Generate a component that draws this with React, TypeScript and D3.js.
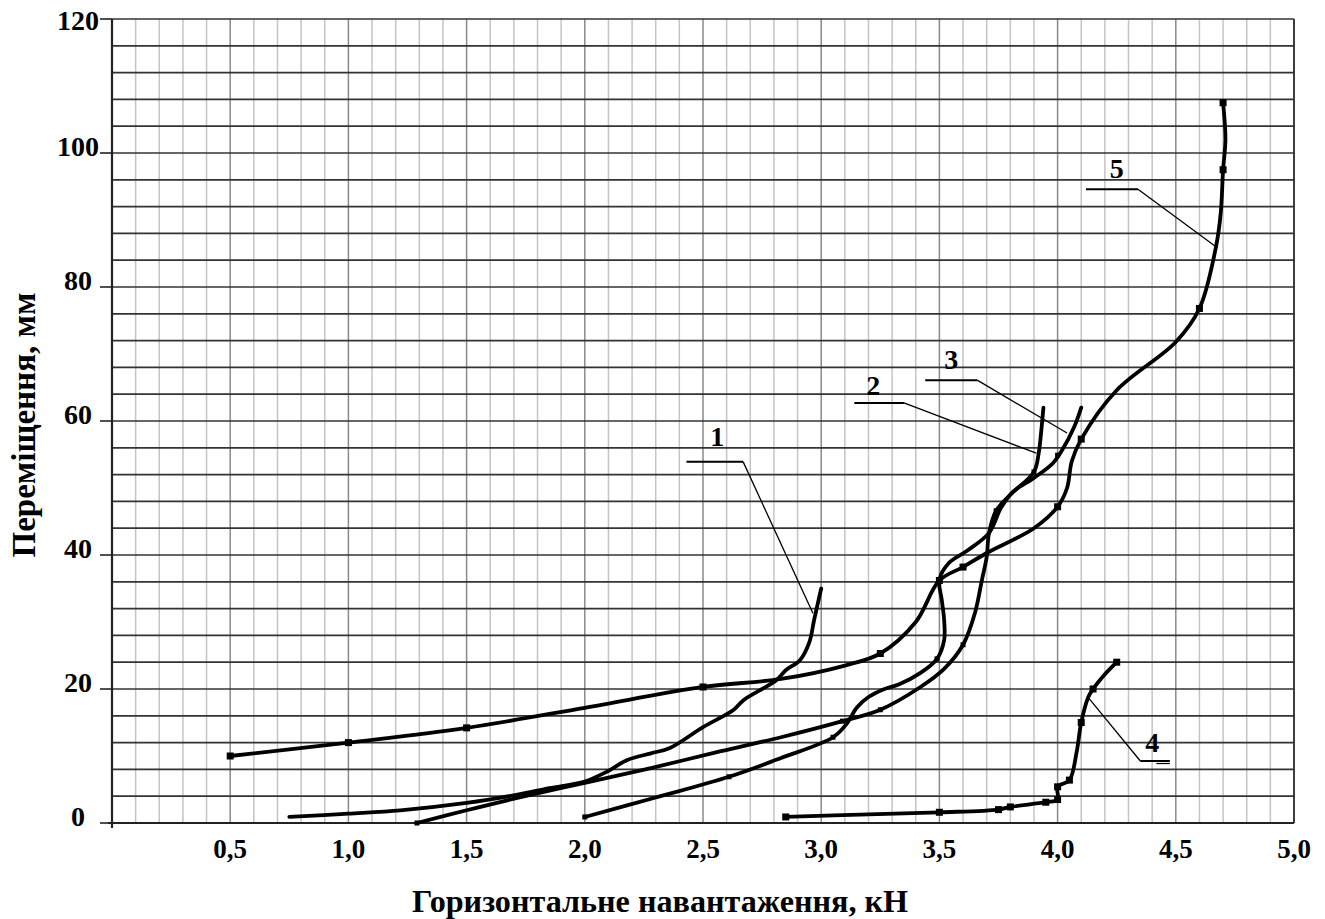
import React from "react";
import * as d3 from "d3";

// load, kN / displacement, mm
const curve1 = [
  [0.75, 0.9], [1.0, 1.4], [1.22, 1.9], [1.5, 3.0], [1.71, 4.2], [1.85, 5.2], [2.0, 6.2],
  [2.09, 7.6], [2.18, 9.4], [2.28, 10.4], [2.36, 11.2], [2.5, 14.3], [2.63, 16.9], [2.67, 18.3],
  [2.81, 21.3], [2.85, 22.8], [2.91, 24.3], [2.95, 27], [2.97, 30.3], [3.0, 35],
];
const curve2 = [
  [1.29, 0], [1.5, 1.9], [1.71, 3.7], [2.0, 6.0], [2.28, 8.2], [2.55, 10.5], [2.83, 12.8],
  [3.09, 15.2], [3.25, 16.9], [3.42, 20.3], [3.52, 23], [3.6, 26.6], [3.65, 31.3], [3.68, 36.3],
  [3.7, 39.7], [3.71, 43.3], [3.74, 46.6], [3.8, 49], [3.9, 52.4], [3.92, 55.2], [3.93, 58.2], [3.94, 62],
];
const curve3 = [
  [2.0, 0.9], [2.3, 3.8], [2.61, 6.9], [2.83, 9.7], [3.05, 12.8], [3.11, 14.9], [3.15, 17.2],
  [3.2, 18.8], [3.26, 19.9], [3.33, 20.7], [3.42, 22.4], [3.49, 24.5], [3.52, 27.3], [3.52, 30.3],
  [3.51, 33.3], [3.5, 36.3], [3.54, 38.8], [3.62, 40.7], [3.71, 43.3], [3.76, 47], [3.81, 49.4],
  [3.9, 51.5], [3.98, 53.7], [4.02, 55.7], [4.07, 59.1], [4.1, 62],
];
const curve4 = [
  [2.85, 0.9], [3.2, 1.3], [3.5, 1.6], [3.75, 2.0], [3.8, 2.4], [3.95, 3.1], [4.0, 3.5], [4.0, 5.4],
  [4.05, 6.4], [4.08, 10.5], [4.1, 15], [4.13, 18.8], [4.15, 20], [4.19, 21.8], [4.25, 24],
];
const curve5 = [
  [0.5, 10], [1.0, 12], [1.5, 14.2], [2.0, 17.2], [2.5, 20.3], [2.83, 21.5], [3.1, 23.5], [3.25, 25.3],
  [3.4, 30], [3.5, 36.2], [3.6, 38.2], [3.7, 40.3], [3.9, 44], [4.0, 47.2], [4.04, 50], [4.06, 54],
  [4.1, 57.3], [4.25, 64.6], [4.5, 71.8], [4.6, 76.8], [4.67, 86], [4.69, 91], [4.7, 97.5],
  [4.71, 102], [4.7, 107.5],
];

// measured points drawn as square markers
const marks2 = [[1.29, 0], [3.09, 15.2], [3.25, 16.9], [3.6, 26.6], [3.74, 46.6], [3.9, 52.4]];
const marks3 = [[2.0, 0.9], [2.61, 6.9], [3.05, 12.8], [3.49, 24.5], [4.0, 54.9]];
const marks4 = [
  [2.85, 0.9], [3.5, 1.6], [3.75, 2.0], [3.8, 2.4], [3.95, 3.1], [4.0, 3.5], [4.0, 5.4],
  [4.05, 6.4], [4.1, 15], [4.15, 20], [4.25, 24],
];
const marks5 = [
  [0.5, 10], [1.0, 12], [1.5, 14.2], [2.5, 20.3], [3.25, 25.3], [3.5, 36.2], [3.6, 38.2],
  [4.0, 47.2], [4.1, 57.3], [4.6, 76.8], [4.7, 97.5], [4.7, 107.5],
];

// curve labels: text pos, shelf [x0, x1, y], leader end
const labelNames = ["1", "2", "3", "4", "5"];
const labelText = [[2.56, 56.3], [3.22, 63.9], [3.55, 67.8], [4.4, 10.6], [4.25, 96.3]];
const labelShelf = [[2.43, 2.67, 53.9], [3.14, 3.35, 62.7], [3.44, 3.66, 66.1], [4.35, 4.475, 9.25], [4.12, 4.34, 94.6]];
const labelTip = [[2.965, 31.3], [3.91, 55.2], [4.04, 58.2], [4.13, 18.7], [4.67, 86]];
const labelFromLeft = [false, false, false, true, false];

const xTicks = [0.5, 1.0, 1.5, 2.0, 2.5, 3.0, 3.5, 4.0, 4.5, 5.0];
const yTicks = [0, 20, 40, 60, 80, 100, 120];

const xTitle = "Горизонтальне навантаження, кН";
const yTitle = "Переміщення, мм";

export default function App() {
  const x = d3.scaleLinear().domain([0, 5]).range([112, 1294]);
  const y = d3.scaleLinear().domain([0, 120]).range([823, 19]);
  const line = d3
    .line()
    .x((d) => x(d[0]))
    .y((d) => y(d[1]))
    .curve(d3.curveCatmullRom.alpha(0.5));

  const vGrid = d3.range(0, 51).map((i) => i / 10);
  const hGrid = d3.range(0, 121, 4);
  const font = "'Liberation Serif', 'Times New Roman', serif";

  const squares = (pts, s, key) =>
    pts.map((d, i) => (
      <rect key={key + i} x={x(d[0]) - s / 2} y={y(d[1]) - s / 2} width={s} height={s} fill="#000" />
    ));

  return (
    <svg
      width={1325}
      height={919}
      style={{ position: "absolute", left: 0, top: 0, background: "#fff" }}
      fontFamily={font}
    >
      <rect x={0} y={0} width={1325} height={919} fill="#fff" />
      {/* grid */}
      {vGrid.map((v, i) => (
        <line
          key={"v" + i}
          x1={x(v)}
          x2={x(v)}
          y1={y(0)}
          y2={y(120)}
          stroke={i % 5 === 0 ? "#8a8a8a" : "#c4c4c4"}
          strokeWidth={1.5}
        />
      ))}
      {hGrid.map((v) => (
        <line key={"h" + v} x1={x(0)} x2={x(5)} y1={y(v)} y2={y(v)} stroke="#333" strokeWidth={1.7} />
      ))}
      <line x1={x(5)} x2={x(5)} y1={y(0)} y2={y(120)} stroke="#333" strokeWidth={1.8} />
      {/* axes */}
      <line x1={x(0)} x2={x(0)} y1={y(0) + 5} y2={y(120)} stroke="#222" strokeWidth={2.2} />
      <line x1={x(0) - 4} x2={x(5)} y1={y(0)} y2={y(0)} stroke="#222" strokeWidth={2} />
      {yTicks.map((t) => (
        <g key={"yt" + t}>
          <line x1={x(0) - 12} x2={x(0)} y1={y(t)} y2={y(t)} stroke="#222" strokeWidth={1.6} />
          <text x={78} y={Math.max(y(t) + 3, 30)} textAnchor="middle" fontSize={28} fontWeight="bold">
            {t}
          </text>
        </g>
      ))}
      {xTicks.map((t) => (
        <text key={"xt" + t} x={x(t)} y={858} textAnchor="middle" fontSize={27} fontWeight="bold">
          {d3.format(".1f")(t).replace(".", ",")}
        </text>
      ))}
      <text
        x={660}
        y={912}
        textAnchor="middle"
        fontSize={31}
        fontWeight="bold"
        textLength={496}
        lengthAdjust="spacingAndGlyphs"
      >
        {xTitle}
      </text>
      <text
        transform={`translate(35, 425) rotate(-90)`}
        textAnchor="middle"
        fontSize={33}
        fontWeight="bold"
        textLength={265}
        lengthAdjust="spacingAndGlyphs"
      >
        {yTitle}
      </text>

      {/* curves */}
      {[curve1, curve2, curve3, curve4, curve5].map((c, i) => (
        <path key={"c" + i} d={line(c)} fill="none" stroke="#000" strokeWidth={3.8} strokeLinejoin="round" strokeLinecap="round" />
      ))}
      {squares(marks2, 5, "m2")}
      {squares(marks3, 5, "m3")}
      {squares(marks4, 7, "m4")}
      {squares(marks5, 7, "m5")}

      {/* labels with leaders */}
      {labelNames.map((n, i) => {
        const [s0, s1, sy] = labelShelf[i];
        const fromX = labelFromLeft[i] ? s0 : s1;
        return (
          <g key={"lab" + n}>
            <text x={x(labelText[i][0])} y={y(labelText[i][1])} textAnchor="middle" fontSize={28} fontWeight="bold">
              {n}
            </text>
            <line x1={x(s0)} x2={x(s1)} y1={y(sy)} y2={y(sy)} stroke="#000" strokeWidth={2} />
            {labelFromLeft[i] && (
              <line x1={x(s0) + 16} x2={x(s1)} y1={y(sy) + 2.5} y2={y(sy) + 2.5} stroke="#000" strokeWidth={1.2} />
            )}
            <line
              x1={x(fromX)}
              y1={y(sy)}
              x2={x(labelTip[i][0])}
              y2={y(labelTip[i][1])}
              stroke="#000"
              strokeWidth={1.3}
            />
          </g>
        );
      })}
    </svg>
  );
}
